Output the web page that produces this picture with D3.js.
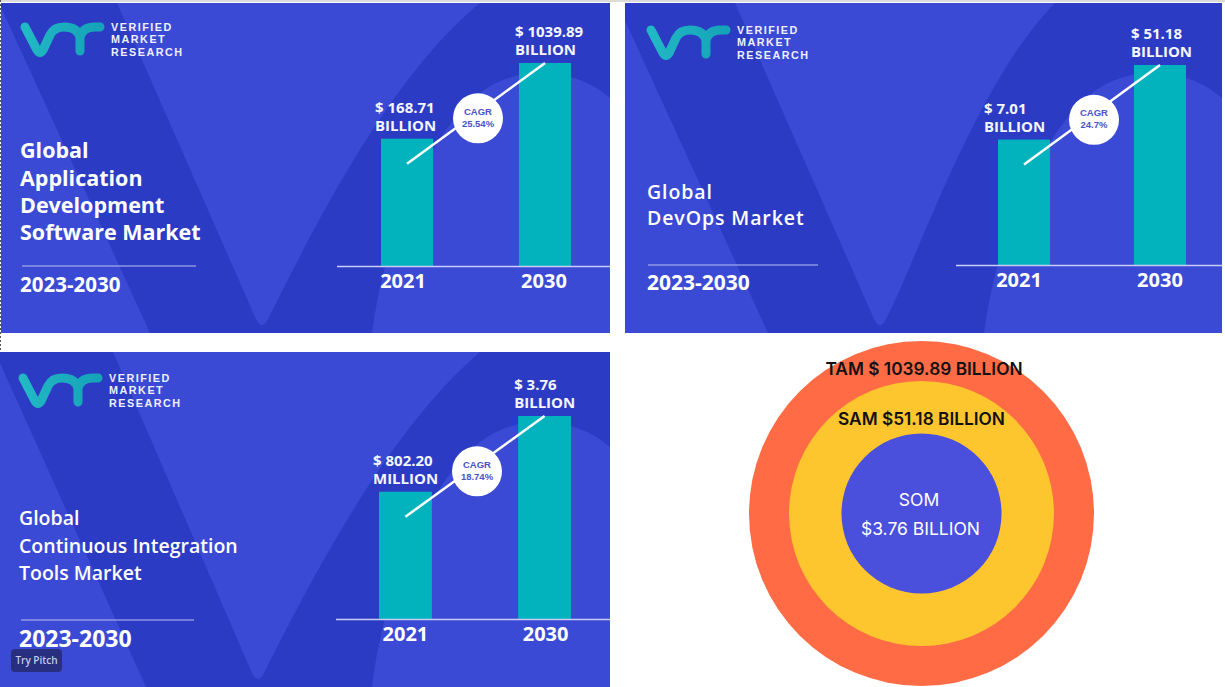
<!DOCTYPE html>
<html><head><meta charset="utf-8">
<script src="https://cdn.jsdelivr.net/npm/d3@7"></script>
<style>html,body{margin:0;padding:0;background:#fff;}svg{display:block;}</style>
</head><body>
<svg id="c" width="1225" height="687"></svg>
<script>
// ---------------- data ----------------
const years = ["2021", "2030"];
const appDevTitle = ["Global", "Application", "Development", "Software Market"];
const appDevValues = [168.71, 1039.89];
const appDevUnits = ["BILLION", "BILLION"];
const appDevCagr = "25.54%";

const devOpsTitle = ["Global", "DevOps Market"];
const devOpsValues = [7.01, 51.18];
const devOpsUnits = ["BILLION", "BILLION"];
const devOpsCagr = "24.7%";

const ciTitle = ["Global", "Continuous Integration", "Tools Market"];
const ciValues = [802.20, 3.76];
const ciUnits = ["MILLION", "BILLION"];
const ciCagr = "18.74%";

const period = "2023-2030";
const barShare = [0.627, 1];          // drawn bar heights relative to the tallest

const marketLevels = ["TAM", "SAM", "SOM"];
const marketValues = [1039.89, 51.18, 3.76];
const ringShare = [1, 0.768, 0.464];  // drawn ring radii relative to the outer ring

// ---------------- drawing ----------------
const LIGHT = "#3b4ad5", DARK = "#2c3bc4", TEAL = "#02b3be";
const svg = d3.select("#c");
const defs = svg.append("defs");
const lg = defs.append("linearGradient").attr("id", "logoGrad").attr("x1", 0).attr("x2", 1);
lg.append("stop").attr("offset", 0).attr("stop-color", "#22b8c4");
lg.append("stop").attr("offset", 1).attr("stop-color", "#15a3b8");

const fmt = d3.format(".2f");
const FONT = "'Open Sans', 'Noto Sans', sans-serif";
const TIGHT = "'Liberation Sans', Arial, sans-serif";

function drawPanel(cfg, title, values, units, cagr, pid) {
  const W = cfg.w, H = cfg.h, vx = cfg.vx, at = cfg.armTop;
  defs.append("clipPath").attr("id", "clip" + pid)
    .append("rect").attr("width", W).attr("height", H);
  const g = svg.append("g").attr("transform", `translate(${cfg.x},${cfg.y})`);
  g.append("rect").attr("width", W).attr("height", H).attr("fill", LIGHT);
  const deco = g.append("g").attr("clip-path", `url(#clip${pid})`);
  deco.append("path").attr("fill", DARK).attr("d",
    `M${vx - 263},0 L${vx - 145},0 L${vx - 6},${H - 14} Q${vx},${H - 2} ${vx + 6},${H - 14}
     C${vx + 40},${H - 80} ${vx + at * 0.55},${H - 250} ${vx + at},0
     L${W},0 L${W},95 C${W - 35},65 ${W - 90},60 ${W - 130},90
     C${W - 180},130 ${W - 225},230 ${W - 238},${H} L${vx - 112},${H} Z`);

  // logo
  const lo = svg.append("g").attr("transform", `translate(${cfg.logo[0]},${cfg.logo[1]})`);
  lo.append("path").attr("fill", "none").attr("stroke", "url(#logoGrad)")
    .attr("stroke-width", 9).attr("stroke-linecap", "round").attr("stroke-linejoin", "round")
    .attr("d", "M5,5 L17,28 Q20,33 23,28 L30,13 Q34,5 44,5 Q58,5 60,16 L60,29 M60,16 Q62,5 75,5 L80,5");
  ["VERIFIED", "MARKET", "RESEARCH"].forEach((t, i) => {
    lo.append("text").attr("x", 91).attr("y", [8.5, 21, 33.5][i]).text(t)
      .attr("fill", "#eef0ff").attr("font-family", TIGHT).attr("font-weight", 700)
      .attr("font-size", 10.8).attr("letter-spacing", 1.5);
  });

  // title
  title.forEach((t, i) => {
    svg.append("text").attr("x", cfg.titleX).attr("y", cfg.titleY[i]).text(t)
      .attr("fill", "#fff").attr("font-family", FONT).attr("font-weight", cfg.titleWeight)
      .attr("font-size", cfg.titleSize).attr("letter-spacing", cfg.titleLs || 0);
  });
  svg.append("line").attr("x1", cfg.rule[0]).attr("x2", cfg.rule[1])
    .attr("y1", cfg.rule[2]).attr("y2", cfg.rule[2])
    .attr("stroke", "#b9bff0").attr("stroke-width", 1.2);
  svg.append("text").attr("x", cfg.titleX).attr("y", cfg.periodY).text(period)
    .attr("fill", "#fff").attr("font-family", FONT).attr("font-weight", 700)
    .attr("font-size", cfg.periodSize);

  // bars
  const xb = d3.scaleBand().domain(years).range(cfg.barRange).paddingInner(cfg.pad).paddingOuter(0);
  const yb = d3.scaleLinear().domain([0, 1]).range([cfg.base, cfg.base - cfg.barH]);
  const rows = years.map((y, i) => ({ year: y, share: barShare[i], value: values[i], unit: units[i], dx: cfg.labelDx[i] }));
  svg.selectAll(null).data(rows).enter().append("rect")
    .attr("x", d => xb(d.year)).attr("width", xb.bandwidth())
    .attr("y", d => yb(d.share)).attr("height", d => yb(0) - yb(d.share))
    .attr("fill", TEAL);
  svg.append("line").attr("x1", cfg.axisX[0]).attr("x2", cfg.axisX[1])
    .attr("y1", cfg.base + 0.5).attr("y2", cfg.base + 0.5)
    .attr("stroke", "#c9cdf4").attr("stroke-width", 1.5);
  const ax = svg.append("g").attr("transform", `translate(0,${cfg.base})`)
    .call(d3.axisBottom(xb).tickSize(0).tickPadding(0));
  ax.select(".domain").remove();
  ax.selectAll("text").attr("dy", null).attr("y", 22).attr("dx", (d, i) => cfg.yearDx[i])
    .attr("fill", "#fff").attr("font-family", FONT).attr("font-weight", 700).attr("font-size", 20);

  const lab = svg.selectAll(null).data(rows).enter().append("text")
    .attr("font-family", FONT).attr("font-weight", 700).attr("font-size", 15).attr("fill", "#f4f5ff");
  lab.append("tspan").attr("x", d => xb(d.year) + d.dx).attr("y", d => yb(d.share) - 26)
    .text(d => "$ " + fmt(d.value));
  lab.append("tspan").attr("x", d => xb(d.year) + d.dx).attr("y", d => yb(d.share) - 8)
    .text(d => d.unit);

  // CAGR connector
  const p0 = [xb(years[0]) + xb.bandwidth() / 2, yb(barShare[0]) + 25];
  const p1 = [xb(years[1]) + xb.bandwidth() / 2, yb(barShare[1])];
  svg.append("line").attr("x1", p0[0]).attr("y1", p0[1]).attr("x2", p1[0]).attr("y2", p1[1])
    .attr("stroke", "#fff").attr("stroke-width", 2.5);
  const cx = (p0[0] + p1[0]) / 2 + 2, cy = (p0[1] + p1[1]) / 2 + 5;
  svg.append("circle").attr("cx", cx).attr("cy", cy).attr("r", 25).attr("fill", "#fff");
  [["CAGR", -3.5], [cagr, 8.5]].forEach(([t, dy]) => {
    svg.append("text").attr("x", cx).attr("y", cy + dy).attr("text-anchor", "middle").text(t)
      .attr("fill", "#4b52c6").attr("font-family", TIGHT).attr("font-weight", 700).attr("font-size", 9.5);
  });
}

// page frame marks
svg.append("line").attr("x1", 0).attr("x2", 1225).attr("y1", 1).attr("y2", 1).attr("stroke", "#cfcfcf").attr("stroke-width", 1.5);
svg.append("line").attr("x1", 0.5).attr("x2", 0.5).attr("y1", 0).attr("y2", 687)
  .attr("stroke", "#555").attr("stroke-width", 1).attr("stroke-dasharray", "2,2");

drawPanel({
  x: 1, y: 3, w: 609, h: 330, vx: 261, armTop: 218,
  logo: [20, 22], titleX: 20, titleY: [158, 186, 213, 240], titleSize: 21.5, titleWeight: 700,
  rule: [22, 196, 266], periodY: 292, periodSize: 20.5,
  barRange: [381, 571], pad: 0.623, base: 266, barH: 203, axisX: [337, 610], labelDx: [-6, -4], yearDx: [-4, -1]
}, appDevTitle, appDevValues, appDevUnits, appDevCagr, 1);

drawPanel({
  x: 625, y: 3, w: 597, h: 330, vx: 255, armTop: 175,
  logo: [646, 25], titleX: 647, titleY: [199, 224.5], titleSize: 19.5, titleWeight: 600, titleLs: 0.9,
  rule: [648, 818, 265], periodY: 290, periodSize: 21,
  barRange: [998, 1186], pad: 0.617, base: 265, barH: 200, axisX: [956, 1222], labelDx: [-14, -3], yearDx: [-5, 0]
}, devOpsTitle, devOpsValues, devOpsUnits, devOpsCagr, 2);

drawPanel({
  x: 0, y: 352, w: 610, h: 335, vx: 258, armTop: 222,
  logo: [18, 373], titleX: 19, titleY: [525, 553, 580], titleSize: 19.5, titleWeight: 600,
  rule: [21, 194, 620], periodY: 647, periodSize: 23,
  barRange: [379, 571], pad: 0.62, base: 619, barH: 203, axisX: [336, 610], labelDx: [-6, -4], yearDx: [0, 1]
}, ciTitle, ciValues, ciUnits, ciCagr, 3);

// Try Pitch badge
svg.append("rect").attr("x", 11).attr("y", 649).attr("width", 51).attr("height", 23).attr("rx", 4)
  .attr("fill", "#272c78").attr("opacity", 0.92);
svg.append("text").attr("x", 36.5).attr("y", 664).attr("text-anchor", "middle").text("Try Pitch")
  .attr("fill", "#c6c9ea").attr("font-family", FONT).attr("font-weight", 600).attr("font-size", 10);

// TAM / SAM / SOM rings
const ringColors = ["#ff6b45", "#fec62e", "#4a4fdc"];
const rScale = d3.scaleLinear().domain([0, 1]).range([0, 172.5]);
const RC = [921.5, 513.5];
const rings = marketLevels.map((l, i) => ({ level: l, value: marketValues[i], share: ringShare[i], color: ringColors[i] }));
svg.selectAll(null).data(rings).enter().append("circle")
  .attr("cx", RC[0]).attr("cy", RC[1]).attr("r", d => rScale(d.share)).attr("fill", d => d.color);
const RF = "Inter, 'Noto Sans', sans-serif";
svg.append("text").attr("x", 924).attr("y", 375).attr("text-anchor", "middle")
  .text(`${rings[0].level} $ ${fmt(rings[0].value)} BILLION`)
  .attr("fill", "#111").attr("font-family", RF).attr("font-weight", 600).attr("font-size", 17.3);
svg.append("text").attr("x", 921.5).attr("y", 425).attr("text-anchor", "middle")
  .text(`${rings[1].level} $${fmt(rings[1].value)} BILLION`)
  .attr("fill", "#111").attr("font-family", RF).attr("font-weight", 600).attr("font-size", 17.3);
svg.append("text").attr("x", 919).attr("y", 506).attr("text-anchor", "middle").text(rings[2].level)
  .attr("fill", "#fff").attr("font-family", RF).attr("font-weight", 400).attr("font-size", 17.5);
svg.append("text").attr("x", 920.5).attr("y", 535).attr("text-anchor", "middle")
  .text(`$${fmt(rings[2].value)} BILLION`)
  .attr("fill", "#fff").attr("font-family", RF).attr("font-weight", 400).attr("font-size", 17.5);
</script>
</body></html>
